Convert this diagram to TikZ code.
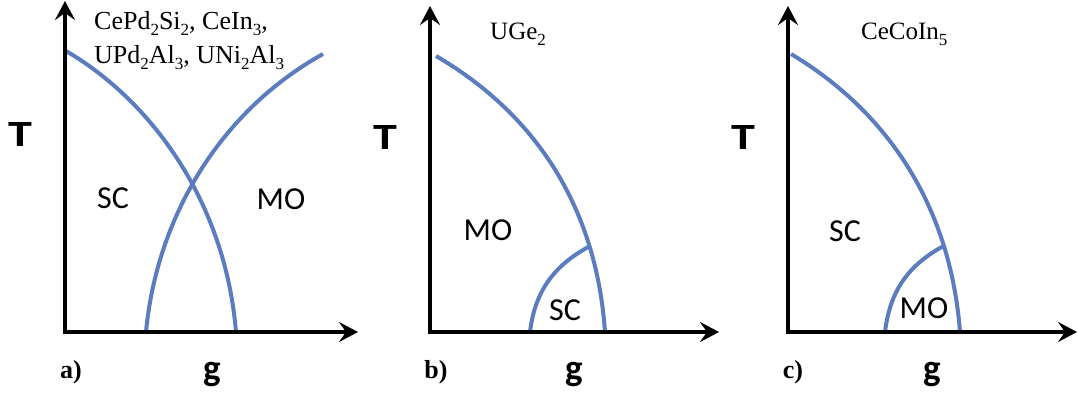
\documentclass[tikz,border=0pt]{standalone}
\usepackage{graphicx}
\usepackage{fontspec}
\setmainfont{Liberation Serif}
\newfontfamily\calib{Carlito}
\usetikzlibrary{arrows.meta}
\definecolor{curveblue}{HTML}{5B7DC0}
\newcommand{\widet}[1]{\scalebox{1.3}[1]{#1}}
\newcommand{\sub}[1]{\raisebox{-0.55ex}{\fontsize{17}{17}\selectfont #1}}
\tikzset{
  axis/.style={line width=3.2pt, -{Stealth[length=19pt,width=20pt,inset=7pt]}},
  phase/.style={draw=curveblue, line width=4pt},
  region/.style={font=\calib\fontsize{32}{36}\selectfont, inner sep=0pt},
  axlabel/.style={font=\calib\bfseries\fontsize{37}{40}\selectfont, inner sep=0pt},
  panel/.style={font=\bfseries\fontsize{26}{30}\selectfont, inner sep=0pt},
  compound/.style={font=\fontsize{26}{30}\selectfont, inner sep=0pt, anchor=base west},
  compoundsm/.style={font=\fontsize{25}{30}\selectfont, inner sep=0pt, anchor=base west},
}
\begin{document}
\begin{tikzpicture}[x=1pt,y=-1pt]
\useasboundingbox (0,0) rectangle (1078,394);
% ---------- panel a ----------
\coordinate (oa) at (65,332);
\coordinate (ya) at (65,1);
\coordinate (xa) at (358,332);
\draw[phase] (66,51) .. controls (150,100) and (225,200) .. (236,332);
\draw[phase] (146,332) .. controls (157,215) and (222,110) .. (323,54);
\draw[axis] (oa) -- (ya);
\draw[axis] ([xshift=-1.6pt]oa) -- (xa);
\node[compound] (ca1) at (94,29) {CePd\sub{2}Si\sub{2}, CeIn\sub{3},};
\node[compound] (ca2) at (94,63) {UPd\sub{2}Al\sub{3}, UNi\sub{2}Al\sub{3}};
\node[axlabel] (Ta) at (20,134) {\widet{T}};
\node[region] (sca) at (113,198) {SC};
\node[region] (moa) at (281,199) {MO};
\node[panel] (pa) at (71,372) {a)};
\node[axlabel] (ga) at (212,375) {g};
% ---------- panel b ----------
\coordinate (ob) at (430,332);
\coordinate (yb) at (430,6);
\coordinate (xb) at (719,332);
\coordinate (jb) at (589.5,246.3);
\draw[phase] (436,56) .. controls (520,105) and (595,190) .. (605,332);
\draw[phase] (530,332) .. controls (535,290) and (555,265) .. (jb);
\draw[axis] (ob) -- (yb);
\draw[axis] ([xshift=-1.6pt]ob) -- (xb);
\node[compoundsm] (cb) at (490,39) {UGe\sub{2}};
\node[axlabel] (Tb) at (385,137) {\widet{T}};
\node[region] (mob) at (488,230) {MO};
\node[region] (scb) at (565,310) {SC};
\node[panel] (pb) at (436,372) {b)};
\node[axlabel] (gb) at (574,375) {g};
% ---------- panel c ----------
\coordinate (oc) at (788,332);
\coordinate (yc) at (788,6);
\coordinate (xc) at (1077,332);
\coordinate (jc) at (943,246.3);
\draw[phase] (791,54) .. controls (873,103) and (949,190) .. (960,332);
\draw[phase] (885,332) .. controls (890,290) and (909,265) .. (jc);
\draw[axis] (oc) -- (yc);
\draw[axis] ([xshift=-1.6pt]oc) -- (xc);
\node[compoundsm] (cc) at (861,39) {CeCoIn\sub{5}};
\node[axlabel] (Tc) at (743,137) {\widet{T}};
\node[region] (scc) at (845,231) {SC};
\node[region] (moc) at (924,308) {MO};
\node[panel] (pc) at (793,372) {c)};
\node[axlabel] (gc) at (932,375) {g};
\end{tikzpicture}
\end{document}
